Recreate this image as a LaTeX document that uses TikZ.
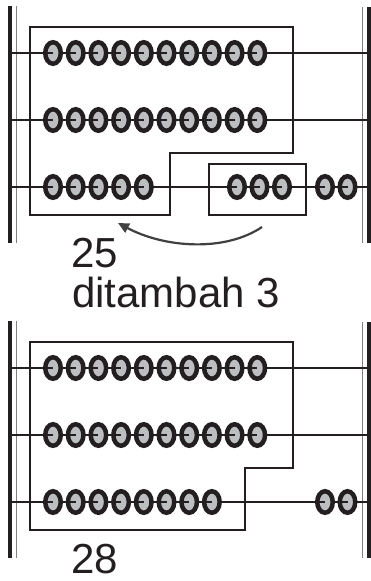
\documentclass[tikz,border=0pt]{standalone}
\usepackage{fontspec}
\setmainfont{Liberation Sans}
\usetikzlibrary{shapes.geometric,arrows.meta}
\definecolor{perle}{HTML}{BCBEC0}
\definecolor{tinte}{HTML}{231F20}

\begin{document}
\begin{tikzpicture}[
  x = 1pt, y = -1pt,
  bead/.style = {
    ellipse, draw = tinte, fill = perle,
    line width = 4.5pt,
    minimum width = 15.5pt, minimum height = 21.5pt,
    inner sep = 0pt
  },
  rodline/.style = {draw = tinte, line width = 1.8pt},
  boxline/.style = {draw = tinte, line width = 1.8pt},
  bigbar/.style = {draw = tinte, line width = 3.8pt},
  thinbar/.style = {draw = black!50, line width = 0.9pt},
  numtext/.style = {
    font = \fontsize{42}{42}\selectfont,
    text = tinte, inner sep = 0pt, anchor = base west,
    text depth = 0pt
  },
  arrowline/.style = {draw = black!75, line width = 2.2pt,
    -{Triangle[length=11pt,width=10pt]}}
]
  \useasboundingbox (0,0) rectangle (371,581);

  % Rahmen und Stangen
  \foreach \oy in {0,315} {
    \begin{scope}[shift={(0,\oy)}]
      \draw[bigbar]  (10.3,6) -- (10.3,243);
      \draw[thinbar] (16,6) -- (16,243);
      \draw[thinbar] (362.7,7) -- (362.7,243);
      \draw[bigbar]  (368.8,7) -- (368.8,243);
      \foreach \yy in {53,120,187}
        \draw[rodline] (12,\yy) -- (367,\yy);
    \end{scope}
  }

  % Kaesten
  \draw[boxline] (30,27) -- (293,27) -- (293,153) -- (170,153)
    -- (170,215) -- (30,215) -- cycle;
  \draw[boxline] (209,164) rectangle (306,215);
  \draw[boxline] (30,342) -- (293,342) -- (293,468) -- (245,468)
    -- (245,530) -- (30,530) -- cycle;

  % Perlen oben
  \foreach \r/\yy in {1/53,2/120}
    \foreach \i in {1,...,10} {
      \node[bead] (a\r-\i) at ({53+22.7*(\i-1)},\yy) {};
      \draw[rodline] (a\r-\i.west) -- (a\r-\i.center);
    }
  \foreach \i/\xx in {1/53,2/75.7,3/98.4,4/121.1,5/143.8,
                      6/237,7/259.5,8/282,9/325,10/347.5} {
    \node[bead] (a3-\i) at (\xx,187) {};
    \draw[rodline] (a3-\i.west) -- (a3-\i.center);
  }

  % Perlen unten
  \foreach \r/\yy in {1/368,2/435}
    \foreach \i in {1,...,10} {
      \node[bead] (b\r-\i) at ({53+22.7*(\i-1)},\yy) {};
      \draw[rodline] (b\r-\i.west) -- (b\r-\i.center);
    }
  \foreach \i in {1,...,8} {
    \node[bead] (b3-\i) at ({53+22.7*(\i-1)},502) {};
    \draw[rodline] (b3-\i.west) -- (b3-\i.center);
  }
  \foreach \i/\xx in {9/325,10/347.5} {
    \node[bead] (b3-\i) at (\xx,502) {};
    \draw[rodline] (b3-\i.west) -- (b3-\i.center);
  }

  % Pfeil
  \coordinate (von)  at (262,227);
  \coordinate (nach) at (118,223);
  \draw[arrowline] (von) .. controls (225,252) and (165,248) .. (nach);

  % Text
  \node[numtext] (zahlA) at (71,267) {25};
  \node[numtext] (zusatz) at (72,307) {ditambah 3};
  \node[numtext] (zahlB) at (71,573) {28};
\end{tikzpicture}
\end{document}
